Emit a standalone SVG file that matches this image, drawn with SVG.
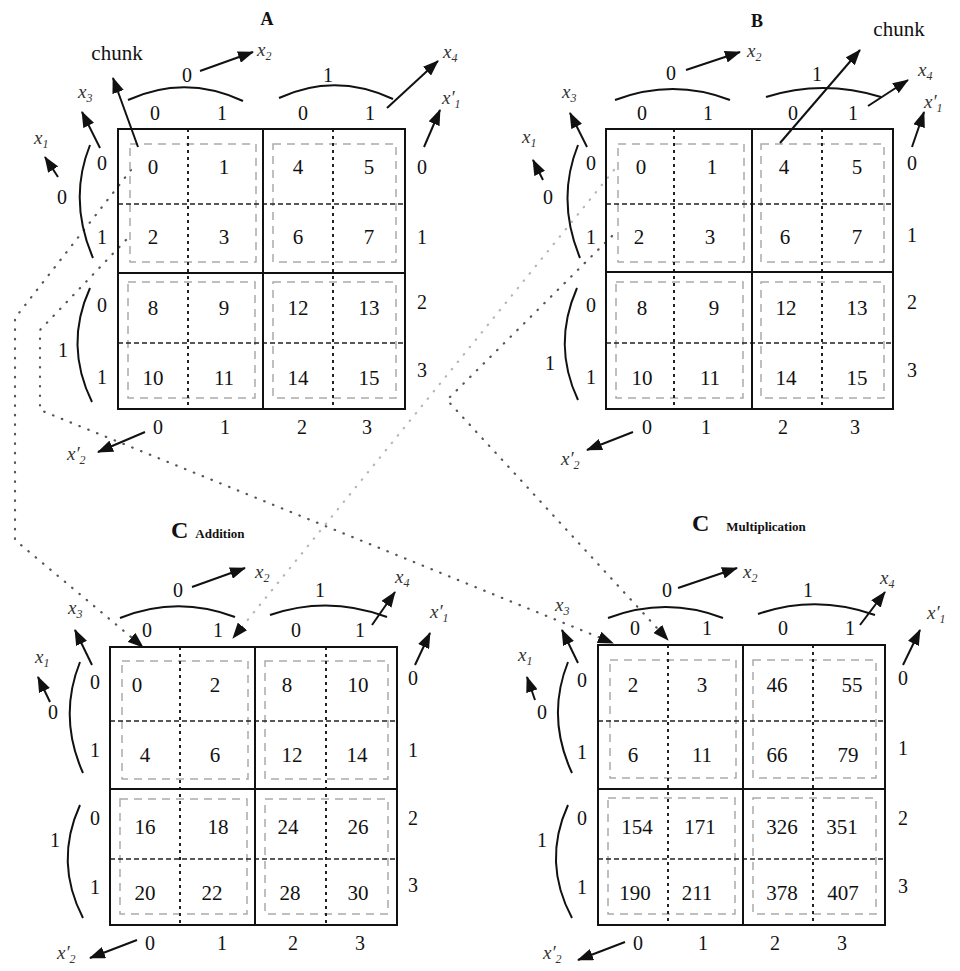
<svg xmlns="http://www.w3.org/2000/svg" width="960" height="971" viewBox="0 0 960 971">
<style>
text{font-family:"Liberation Serif","Times New Roman",serif;fill:#111}
.n{font-size:21px;text-anchor:middle}
.h{font-size:20px;text-anchor:middle}
.v{font-size:19px;font-style:italic;fill:#333}
.s{font-size:12px}
.ttl{font-weight:bold}
.box{fill:none;stroke:#111;stroke-width:2}
.mid{stroke:#111;stroke-width:2}
.vd{stroke:#222;stroke-width:2;stroke-dasharray:3 4}
.hd{stroke:#222;stroke-width:1.5;stroke-dasharray:5 3}
.ck{fill:none;stroke:#aaa;stroke-width:1.5;stroke-dasharray:8 6}
.arc{fill:none;stroke:#111;stroke-width:2}
.ar{stroke:#111;stroke-width:2;marker-end:url(#ah)}
.cn{fill:none;stroke:#555;stroke-width:2.2;stroke-dasharray:0.5 9;stroke-linecap:round;marker-end:url(#ah)}
.cf{stroke:#b5b5b5}
</style>
<defs>
<marker id="ah" viewBox="0 0 16 12" refX="15" refY="6" markerWidth="16" markerHeight="12" markerUnits="userSpaceOnUse" orient="auto"><path d="M0,0 L16,6 L0,12 z" fill="#111"/></marker>
</defs>
<rect width="960" height="971" fill="#fff"/>

<g id="titles">
<text class="ttl" x="267" y="25" font-size="18" text-anchor="middle">A</text>
<text class="ttl" x="757" y="27" font-size="18" text-anchor="middle">B</text>
<text class="ttl" x="171" y="538" font-size="24">C<tspan font-size="13" dx="7">Addition</tspan></text>
<text class="ttl" x="692" y="531" font-size="24">C<tspan font-size="13" dx="17">Multiplication</tspan></text>
</g>

<g id="connectors">
<path class="cn" d="M131,170 L15,318 L15,540 L143,647"/>
<path class="cn" d="M126,240 L40,330 L40,410 L613,643"/>
<path class="cn" d="M612,236 L447,400 L668,640"/>
<path class="cn cf" d="M614,170 L233,638"/>
</g>

<g id="matrixA" transform="translate(118,129)">
<rect class="ck" x="12" y="15" width="126" height="118"/>
<rect class="ck" x="155" y="15" width="123" height="118"/>
<rect class="ck" x="10" y="153" width="127" height="116"/>
<rect class="ck" x="155" y="153" width="123" height="116"/>
<line class="vd" x1="70" y1="0" x2="70" y2="280"/>
<line class="vd" x1="215" y1="0" x2="215" y2="280"/>
<line class="hd" x1="0" y1="75" x2="287" y2="75"/>
<line class="hd" x1="0" y1="214" x2="287" y2="214"/>
<line class="mid" x1="145" y1="0" x2="145" y2="280"/>
<line class="mid" x1="0" y1="144" x2="287" y2="144"/>
<rect class="box" x="0" y="0" width="287" height="280"/>
<text class="n" x="35" y="45">0</text><text class="n" x="106" y="45">1</text><text class="n" x="180" y="45">4</text><text class="n" x="251" y="45">5</text>
<text class="n" x="35" y="115">2</text><text class="n" x="106" y="115">3</text><text class="n" x="180" y="115">6</text><text class="n" x="251" y="115">7</text>
<text class="n" x="35" y="186">8</text><text class="n" x="106" y="186">9</text><text class="n" x="180" y="186">12</text><text class="n" x="251" y="186">13</text>
<text class="n" x="35" y="256">10</text><text class="n" x="106" y="256">11</text><text class="n" x="180" y="256">14</text><text class="n" x="251" y="256">15</text>
<text class="h" x="37" y="-9">0</text><text class="h" x="104" y="-9">1</text><text class="h" x="185" y="-9">0</text><text class="h" x="252" y="-9">1</text>
<path class="arc" d="M10,-29 Q67,-55 125,-28"/>
<path class="arc" d="M161,-31 Q217,-57 275,-30"/>
<text class="h" x="69" y="-47">0</text><text class="h" x="210" y="-47">1</text>
<line class="ar" x1="82" y1="-58" x2="135" y2="-77"/>
<text class="v" x="139" y="-73">x<tspan class="s" dy="4">2</tspan></text>
<line class="ar" x1="269" y1="-21" x2="320" y2="-68"/>
<text class="v" x="325" y="-71">x<tspan class="s" dy="4">4</tspan></text>
<line class="ar" x1="306" y1="18" x2="322" y2="-19"/>
<text class="v" x="324" y="-25">x′<tspan class="s" dy="4">1</tspan></text>
<text class="h" x="304" y="45">0</text><text class="h" x="304" y="115">1</text><text class="h" x="304" y="180">2</text><text class="h" x="304" y="248">3</text>
<line class="ar" x1="-18" y1="19" x2="-36" y2="-17"/>
<text class="v" x="-40" y="-31">x<tspan class="s" dy="4">3</tspan></text>
<line class="ar" x1="-60" y1="48" x2="-73" y2="28"/>
<text class="v" x="-84" y="15">x<tspan class="s" dy="4">1</tspan></text>
<text class="h" x="-56" y="75">0</text>
<path class="arc" d="M-28,16 Q-50,71 -25,129"/>
<path class="arc" d="M-28,159 Q-54,216 -26,273"/>
<text class="h" x="-16" y="41">0</text><text class="h" x="-16" y="115">1</text><text class="h" x="-16" y="183">0</text><text class="h" x="-16" y="255">1</text>
<text class="h" x="-55" y="228">1</text>
<text class="h" x="40" y="305">0</text><text class="h" x="107" y="305">1</text><text class="h" x="184" y="305">2</text><text class="h" x="249" y="305">3</text>
<line class="ar" x1="27" y1="303" x2="-20" y2="323"/>
<text class="v" x="-51" y="331">x′<tspan class="s" dy="4">2</tspan></text>
<line class="ar" x1="20" y1="18" x2="-5" y2="-51"/>
<text x="-1" y="-69" font-size="21" text-anchor="middle">chunk</text>
</g>

<g id="matrixB" transform="translate(606,129)">
<rect class="ck" x="12" y="15" width="126" height="118"/>
<rect class="ck" x="155" y="15" width="123" height="118"/>
<rect class="ck" x="10" y="153" width="127" height="116"/>
<rect class="ck" x="155" y="153" width="123" height="116"/>
<line class="vd" x1="68" y1="0" x2="68" y2="280"/>
<line class="vd" x1="216" y1="0" x2="216" y2="280"/>
<line class="hd" x1="0" y1="75" x2="287" y2="75"/>
<line class="hd" x1="0" y1="214" x2="287" y2="214"/>
<line class="mid" x1="146" y1="0" x2="146" y2="280"/>
<line class="mid" x1="0" y1="143" x2="287" y2="143"/>
<rect class="box" x="0" y="0" width="287" height="280"/>
<text class="n" x="35" y="45">0</text><text class="n" x="106" y="45">1</text><text class="n" x="178" y="45">4</text><text class="n" x="251" y="45">5</text>
<text class="n" x="33" y="115">2</text><text class="n" x="104" y="115">3</text><text class="n" x="179" y="115">6</text><text class="n" x="251" y="115">7</text>
<text class="n" x="36" y="186">8</text><text class="n" x="108" y="186">9</text><text class="n" x="180" y="186">12</text><text class="n" x="251" y="186">13</text>
<text class="n" x="36" y="256">10</text><text class="n" x="104" y="256">11</text><text class="n" x="180" y="256">14</text><text class="n" x="251" y="256">15</text>
<text class="h" x="36" y="-9">0</text><text class="h" x="102" y="-9">1</text><text class="h" x="187" y="-9">0</text><text class="h" x="247" y="-9">1</text>
<path class="arc" d="M9,-29 Q67,-51 124,-29"/>
<path class="arc" d="M160,-32 Q217,-50 275,-32"/>
<text class="h" x="65" y="-49">0</text><text class="h" x="211" y="-48">1</text>
<line class="ar" x1="80" y1="-59" x2="134" y2="-77"/>
<text class="v" x="141" y="-72">x<tspan class="s" dy="4">2</tspan></text>
<line class="ar" x1="262" y1="-23" x2="302" y2="-49"/>
<text class="v" x="312" y="-53">x<tspan class="s" dy="4">4</tspan></text>
<line class="ar" x1="306" y1="18" x2="318" y2="-17"/>
<text class="v" x="318" y="-21">x′<tspan class="s" dy="4">1</tspan></text>
<text class="h" x="306" y="41">0</text><text class="h" x="306" y="113">1</text><text class="h" x="306" y="180">2</text><text class="h" x="306" y="248">3</text>
<line class="ar" x1="-19" y1="18" x2="-36" y2="-16"/>
<text class="v" x="-44" y="-31">x<tspan class="s" dy="4">3</tspan></text>
<line class="ar" x1="-63" y1="51" x2="-73" y2="31"/>
<text class="v" x="-84" y="14">x<tspan class="s" dy="4">1</tspan></text>
<text class="h" x="-58" y="75">0</text>
<path class="arc" d="M-28,16 Q-50,71 -26,129"/>
<path class="arc" d="M-29,159 Q-54,216 -28,271"/>
<text class="h" x="-15" y="41">0</text><text class="h" x="-15" y="115">1</text><text class="h" x="-15" y="183">0</text><text class="h" x="-15" y="255">1</text>
<text class="h" x="-56" y="241">1</text>
<text class="h" x="41" y="305">0</text><text class="h" x="100" y="305">1</text><text class="h" x="177" y="305">2</text><text class="h" x="249" y="305">3</text>
<line class="ar" x1="27" y1="303" x2="-19" y2="321"/>
<text class="v" x="-45" y="336">x′<tspan class="s" dy="4">2</tspan></text>
<line class="ar" x1="174" y1="14" x2="254" y2="-79"/>
<text x="293" y="-93" font-size="21" text-anchor="middle">chunk</text>
</g>

<g id="matrixCAdd" transform="translate(110,647)">
<rect class="ck" x="12" y="14" width="126" height="118"/>
<rect class="ck" x="155" y="14" width="123" height="118"/>
<rect class="ck" x="10" y="152" width="127" height="115"/>
<rect class="ck" x="155" y="152" width="123" height="115"/>
<line class="vd" x1="70" y1="0" x2="70" y2="278"/>
<line class="vd" x1="216" y1="0" x2="216" y2="278"/>
<line class="hd" x1="0" y1="74" x2="287" y2="74"/>
<line class="hd" x1="0" y1="212" x2="287" y2="212"/>
<line class="mid" x1="145" y1="0" x2="145" y2="278"/>
<line class="mid" x1="0" y1="142" x2="287" y2="142"/>
<rect class="box" x="0" y="0" width="287" height="278"/>
<text class="n" x="27" y="45">0</text><text class="n" x="105" y="45">2</text><text class="n" x="177" y="45">8</text><text class="n" x="248" y="45">10</text>
<text class="n" x="35" y="115">4</text><text class="n" x="105" y="115">6</text><text class="n" x="182" y="115">12</text><text class="n" x="247" y="115">14</text>
<text class="n" x="35" y="187">16</text><text class="n" x="108" y="187">18</text><text class="n" x="178" y="187">24</text><text class="n" x="248" y="187">26</text>
<text class="n" x="35" y="253">20</text><text class="n" x="102" y="253">22</text><text class="n" x="180" y="253">28</text><text class="n" x="248" y="253">30</text>
<text class="h" x="37" y="-10">0</text><text class="h" x="108" y="-10">1</text><text class="h" x="186" y="-10">0</text><text class="h" x="250" y="-10">1</text>
<path class="arc" d="M10,-29 Q67,-52 125,-30"/>
<path class="arc" d="M160,-32 Q218,-52 277,-30"/>
<text class="h" x="68" y="-50">0</text><text class="h" x="210" y="-50">1</text>
<line class="ar" x1="82" y1="-60" x2="135" y2="-79"/>
<text class="v" x="145" y="-69">x<tspan class="s" dy="4">2</tspan></text>
<line class="ar" x1="262" y1="-22" x2="285" y2="-55"/>
<text class="v" x="285" y="-64">x<tspan class="s" dy="4">4</tspan></text>
<line class="ar" x1="305" y1="18" x2="320" y2="-14"/>
<text class="v" x="320" y="-29">x′<tspan class="s" dy="4">1</tspan></text>
<text class="h" x="303" y="38">0</text><text class="h" x="303" y="110">1</text><text class="h" x="303" y="178">2</text><text class="h" x="303" y="245">3</text>
<line class="ar" x1="-18" y1="18" x2="-35" y2="-17"/>
<text class="v" x="-42" y="-33">x<tspan class="s" dy="4">3</tspan></text>
<line class="ar" x1="-60" y1="55" x2="-72" y2="30"/>
<text class="v" x="-75" y="16">x<tspan class="s" dy="4">1</tspan></text>
<text class="h" x="-57" y="72">0</text>
<path class="arc" d="M-30,15 Q-52,70 -27,126"/>
<path class="arc" d="M-30,158 Q-56,215 -27,271"/>
<text class="h" x="-15" y="42">0</text><text class="h" x="-15" y="110">1</text><text class="h" x="-15" y="178">0</text><text class="h" x="-15" y="247">1</text>
<text class="h" x="-55" y="200">1</text>
<text class="h" x="40" y="303">0</text><text class="h" x="112" y="303">1</text><text class="h" x="183" y="303">2</text><text class="h" x="250" y="303">3</text>
<line class="ar" x1="27" y1="293" x2="-20" y2="311"/>
<text class="v" x="-53" y="312">x′<tspan class="s" dy="4">2</tspan></text>
</g>

<g id="matrixCMul" transform="translate(598,645)">
<rect class="ck" x="12" y="15" width="126" height="118"/>
<rect class="ck" x="155" y="15" width="123" height="118"/>
<rect class="ck" x="10" y="153" width="127" height="116"/>
<rect class="ck" x="155" y="153" width="123" height="116"/>
<line class="vd" x1="70" y1="0" x2="70" y2="280"/>
<line class="vd" x1="215" y1="0" x2="215" y2="280"/>
<line class="hd" x1="0" y1="76" x2="287" y2="76"/>
<line class="hd" x1="0" y1="214" x2="287" y2="214"/>
<line class="mid" x1="145" y1="0" x2="145" y2="280"/>
<line class="mid" x1="0" y1="144" x2="287" y2="144"/>
<rect class="box" x="0" y="0" width="287" height="280"/>
<text class="n" x="35" y="47">2</text><text class="n" x="104" y="47">3</text><text class="n" x="179" y="47">46</text><text class="n" x="254" y="47">55</text>
<text class="n" x="35" y="117">6</text><text class="n" x="104" y="117">11</text><text class="n" x="179" y="117">66</text><text class="n" x="250" y="117">79</text>
<text class="n" x="39" y="189">154</text><text class="n" x="102" y="189">171</text><text class="n" x="184" y="189">326</text><text class="n" x="244" y="189">351</text>
<text class="n" x="37" y="255">190</text><text class="n" x="99" y="255">211</text><text class="n" x="184" y="255">378</text><text class="n" x="245" y="255">407</text>
<text class="h" x="37" y="-10">0</text><text class="h" x="109" y="-10">1</text><text class="h" x="185" y="-10">0</text><text class="h" x="252" y="-10">1</text>
<path class="arc" d="M10,-27 Q68,-49 125,-27"/>
<path class="arc" d="M160,-31 Q218,-51 277,-30"/>
<text class="h" x="69" y="-48">0</text><text class="h" x="210" y="-48">1</text>
<line class="ar" x1="80" y1="-57" x2="139" y2="-77"/>
<text class="v" x="145" y="-67">x<tspan class="s" dy="4">2</tspan></text>
<line class="ar" x1="262" y1="-20" x2="287" y2="-53"/>
<text class="v" x="282" y="-61">x<tspan class="s" dy="4">4</tspan></text>
<line class="ar" x1="305" y1="20" x2="322" y2="-15"/>
<text class="v" x="329" y="-26">x′<tspan class="s" dy="4">1</tspan></text>
<text class="h" x="305" y="40">0</text><text class="h" x="305" y="110">1</text><text class="h" x="305" y="180">2</text><text class="h" x="305" y="248">3</text>
<line class="ar" x1="-20" y1="18" x2="-36" y2="-15"/>
<text class="v" x="-43" y="-34">x<tspan class="s" dy="4">3</tspan></text>
<line class="ar" x1="-63" y1="55" x2="-71" y2="32"/>
<text class="v" x="-80" y="16">x<tspan class="s" dy="4">1</tspan></text>
<text class="h" x="-56" y="74">0</text>
<path class="arc" d="M-30,17 Q-52,72 -26,128"/>
<path class="arc" d="M-30,160 Q-56,217 -26,273"/>
<text class="h" x="-16" y="42">0</text><text class="h" x="-16" y="114">1</text><text class="h" x="-16" y="180">0</text><text class="h" x="-16" y="249">1</text>
<text class="h" x="-56" y="202">1</text>
<text class="h" x="40" y="305">0</text><text class="h" x="105" y="305">1</text><text class="h" x="177" y="305">2</text><text class="h" x="244" y="305">3</text>
<line class="ar" x1="27" y1="297" x2="-20" y2="315"/>
<text class="v" x="-55" y="314">x′<tspan class="s" dy="4">2</tspan></text>
</g>
</svg>
